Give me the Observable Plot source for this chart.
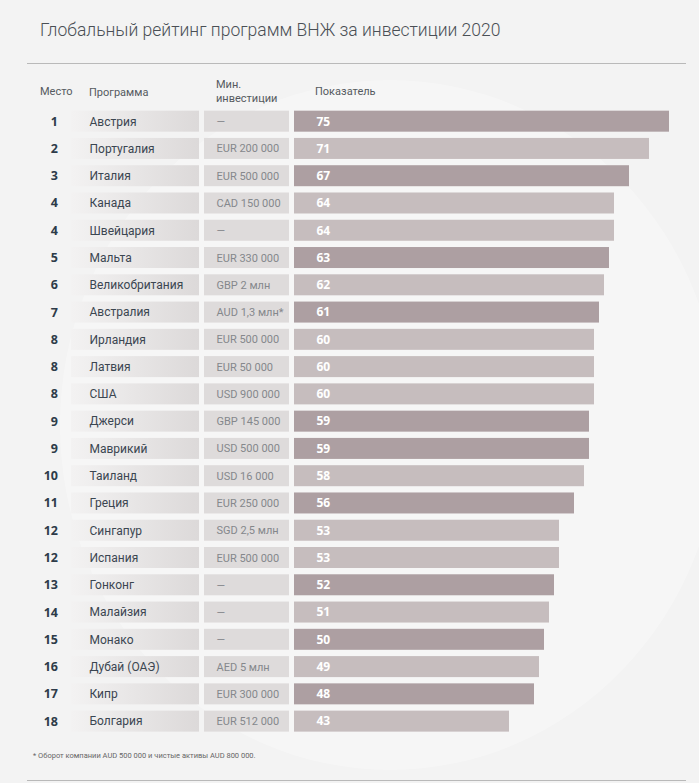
<!DOCTYPE html>
<html>
<head>
<meta charset="utf-8">
<script src="https://cdn.jsdelivr.net/npm/d3@7"></script>
<script src="https://cdn.jsdelivr.net/npm/@observablehq/plot@0.6"></script>
<style>
  html, body { margin: 0; padding: 0; background: #f4f4f4; }
  #page { position: relative; width: 699px; height: 783px; overflow: hidden; background: #f3f3f3; font-family: Roboto, "Noto Sans", sans-serif; }
  .wm { position: absolute; border-radius: 50%; background: rgba(255,255,255,0.3); }
  #title { position: absolute; left: 40px; top: 20px; font-size: 17.5px; font-weight: 300; color: #4a4f55; white-space: nowrap; }
  .hline { position: absolute; left: 27px; width: 659px; height: 1px; background: #b9b9b9; }
  .hdr { position: absolute; font-size: 11px; color: #555a60; line-height: 14px; font-weight: 400; }
  #foot { position: absolute; left: 33px; top: 751px; font-size: 7.5px; color: #666; white-space: nowrap; }
  #chart { position: absolute; left: 0; top: 0; }
</style>
</head>
<body>
<div id="page">
  <div class="wm" style="left:60px; top:80px; width:660px; height:690px;"></div>
  <div id="title">Глобальный рейтинг программ ВНЖ за инвестиции 2020</div>
  <div class="hline" style="top:63px;"></div>
  <div class="hdr" style="left:40px; top:85px;">Место</div>
  <div class="hdr" style="left:89px; top:86px;">Программа</div>
  <div class="hdr" style="left:216px; top:78px;">Мин.<br>инвестиции</div>
  <div class="hdr" style="left:315px; top:85px;">Показатель</div>
  <div id="chart"></div>
  <div id="foot">* Оборот компании AUD 500 000 и чистые активы AUD 800 000.</div>
  <div class="hline" style="top:780px;"></div>
</div>
<script>
const ranks = [1, 2, 3, 4, 4, 5, 6, 7, 8, 8, 8, 9, 9, 10, 11, 12, 12, 13, 14, 15, 16, 17, 18];
const programs = ["Австрия", "Португалия", "Италия", "Канада", "Швейцария", "Мальта", "Великобритания", "Австралия", "Ирландия", "Латвия", "США", "Джерси", "Маврикий", "Таиланд", "Греция", "Сингапур", "Испания", "Гонконг", "Малайзия", "Монако", "Дубай (ОАЭ)", "Кипр", "Болгария"];
const investments = ["—", "EUR 200 000", "EUR 500 000", "CAD 150 000", "—", "EUR 330 000", "GBP 2 млн", "AUD 1,3 млн*", "EUR 500 000", "EUR 50 000", "USD 900 000", "GBP 145 000", "USD 500 000", "USD 16 000", "EUR 250 000", "SGD 2,5 млн", "EUR 500 000", "—", "—", "—", "AED 5 млн", "EUR 300 000", "EUR 512 000"];
const scores = [75, 71, 67, 64, 64, 63, 62, 61, 60, 60, 60, 59, 59, 58, 56, 53, 53, 52, 51, 50, 49, 48, 43];

const rows = programs.map((p, i) => ({rank: ranks[i], program: p, inv: investments[i], score: scores[i]}));

const DARK = "#ad9fa2", LIGHT = "#c6bdbe";
// pixel layout helpers (x scale: 0 at 294px, 5px per point)
const X0 = 294, PXU = 5;
const px = v => (v - X0) / PXU;

const chart = Plot.plot({
  width: 699,
  height: 783,
  margin: 0,
  style: {background: "transparent", overflow: "visible"},
  x: {domain: [0, 75], range: [X0, X0 + 75 * PXU], axis: null},
  y: {domain: programs, range: [104.4, 737.9], padding: 0.23, round: false, axis: null},
  color: {type: "identity"},
  marks: [
    Plot.barX(rows, {x1: () => px(71), x2: () => px(199), y: "program", fill: "url(#progGrad)"}),
    Plot.barX(rows, {x1: () => px(204), x2: () => px(289), y: "program", fill: "#dedbdb"}),
    Plot.barX(rows, {x: "score", y: "program", fill: d => (d.rank % 2 ? DARK : LIGHT)}),
    Plot.text(rows, {x: () => px(57.5), y: "program", text: d => String(d.rank), textAnchor: "end", fill: "#2d3b49", fontWeight: "bold", fontSize: 12.5, fontFamily: "'Open Sans', sans-serif"}),
    Plot.text(rows, {x: () => px(89), y: "program", text: "program", textAnchor: "start", fill: "#3b4651", fontSize: 12, fontFamily: "Roboto, sans-serif"}),
    Plot.text(rows, {x: () => px(216), y: "program", text: "inv", textAnchor: "start", fill: "#85888c", fontSize: 11, fontFamily: "Roboto, sans-serif"}),
    Plot.text(rows, {x: () => px(316), y: "program", text: d => String(d.score), textAnchor: "start", fill: "#ffffff", fontWeight: "bold", fontSize: 12, fontFamily: "'Open Sans', sans-serif"})
  ]
});

const defs = d3.select(chart).insert("defs", ":first-child");
const g = defs.append("linearGradient").attr("id", "progGrad").attr("x1", "0").attr("x2", "1").attr("y1", "0").attr("y2", "0");
g.append("stop").attr("offset", "0%").attr("stop-color", "#f3f2f2");
g.append("stop").attr("offset", "100%").attr("stop-color", "#dcd9d9");

document.getElementById("chart").appendChild(chart);
</script>
</body>
</html>
